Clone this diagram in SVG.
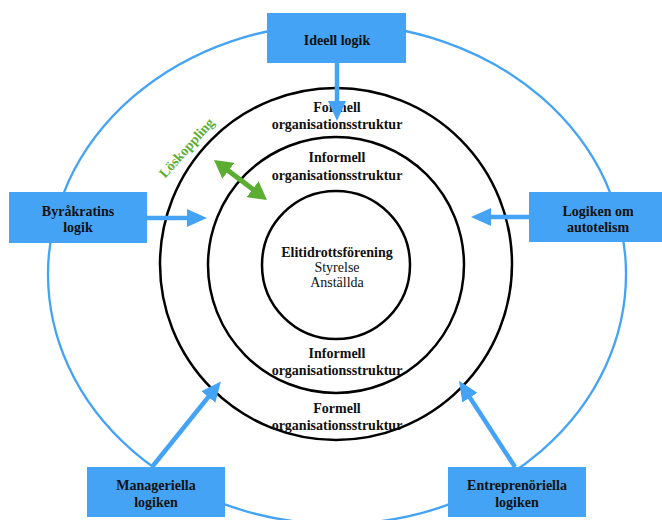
<svg xmlns="http://www.w3.org/2000/svg" width="662" height="520" viewBox="0 0 662 520">
  <defs>
    <style>
      .ring { fill: none; stroke: #000; stroke-width: 2.5; }
      .field { fill: none; stroke: #45A3F5; stroke-width: 2.3; }
      .box { fill: #45A3F5; }
      .lbl { font-family: "Liberation Serif", "Times New Roman", serif; font-size: 14px; font-weight: bold; fill: #111; text-anchor: middle; }
      .plain { font-weight: normal; }
      .flow { stroke: #45A3F5; stroke-width: 4.5; fill: none; marker-end: url(#headBlue); }
      .loose { stroke: #5BAE32; stroke-width: 5; fill: none; marker-start: url(#headGreenStart); marker-end: url(#headGreen); }
      .green { font-family: "Liberation Serif", "Times New Roman", serif; font-size: 14px; font-weight: bold; fill: #5BAE32; }
    </style>
    <marker id="headBlue" viewBox="0 0 20 20" markerWidth="20" markerHeight="20" refX="9" refY="10" orient="auto" markerUnits="userSpaceOnUse">
      <path d="M0,1 L20,10 L0,19 z" fill="#45A3F5"/>
    </marker>
    <marker id="headGreen" viewBox="0 0 20 20" markerWidth="20" markerHeight="20" refX="8" refY="10" orient="auto" markerUnits="userSpaceOnUse">
      <path d="M0,0 L18,10 L0,20 z" fill="#5BAE32"/>
    </marker>
    <marker id="headGreenStart" viewBox="0 0 20 20" markerWidth="20" markerHeight="20" refX="12" refY="10" orient="auto" markerUnits="userSpaceOnUse">
      <path d="M20,0 L2,10 L20,20 z" fill="#5BAE32"/>
    </marker>
  </defs>

  <rect width="662" height="520" fill="#fff"/>

  <!-- institutional field -->
  <ellipse class="field" cx="337" cy="274" rx="289" ry="250"/>

  <!-- organisation rings -->
  <g id="ring-formell">
    <circle class="ring" cx="336" cy="264" r="176"/>
    <text class="lbl" x="337" y="112">Formell</text>
    <text class="lbl" x="337" y="129">organisationsstruktur</text>
    <text class="lbl" x="337" y="413">Formell</text>
    <text class="lbl" x="337" y="430">organisationsstruktur</text>
  </g>
  <g id="ring-informell">
    <circle class="ring" cx="336" cy="265" r="128"/>
    <text class="lbl" x="337" y="162">Informell</text>
    <text class="lbl" x="337" y="180">organisationsstruktur</text>
    <text class="lbl" x="337" y="358">Informell</text>
    <text class="lbl" x="337" y="375">organisationsstruktur</text>
  </g>
  <g id="core">
    <circle class="ring" cx="336" cy="265" r="74"/>
    <text class="lbl" x="337" y="257">Elitidrottsförening</text>
    <text class="lbl plain" x="337" y="272">Styrelse</text>
    <text class="lbl plain" x="337" y="287">Anställda</text>
  </g>

  <!-- logic boxes -->
  <g id="ideell">
    <rect class="box" x="267" y="13" width="139" height="50"/>
    <text class="lbl" x="337" y="45">Ideell logik</text>
  </g>
  <g id="byrakrati">
    <rect class="box" x="9" y="192" width="138" height="51"/>
    <text class="lbl" x="78" y="216">Byråkratins</text>
    <text class="lbl" x="78" y="232">logik</text>
  </g>
  <g id="autotelism">
    <rect class="box" x="529" y="192" width="138" height="50"/>
    <text class="lbl" x="598" y="216">Logiken om</text>
    <text class="lbl" x="598" y="232">autotelism</text>
  </g>
  <g id="manageriell">
    <rect class="box" x="87" y="467" width="138" height="50"/>
    <text class="lbl" x="156" y="490">Manageriella</text>
    <text class="lbl" x="156" y="507">logiken</text>
  </g>
  <g id="entreprenoriell">
    <rect class="box" x="448" y="467" width="138" height="50"/>
    <text class="lbl" x="517" y="490">Entreprenöriella</text>
    <text class="lbl" x="517" y="507">logiken</text>
  </g>

  <!-- influences and loose coupling -->
  <g id="connectors">
    <line class="flow" x1="337" y1="63" x2="337" y2="110"/>
    <line class="flow" x1="147" y1="218" x2="196" y2="218"/>
    <line class="flow" x1="529" y1="217" x2="482" y2="217"/>
    <line class="flow" x1="152" y1="467" x2="214" y2="390"/>
    <line class="flow" x1="515" y1="467" x2="465" y2="390"/>
    <line class="loose" x1="222" y1="166" x2="259" y2="194"/>
    <text class="green" transform="translate(190 151) rotate(-48)" text-anchor="middle">Löskoppling</text>
  </g>
</svg>
